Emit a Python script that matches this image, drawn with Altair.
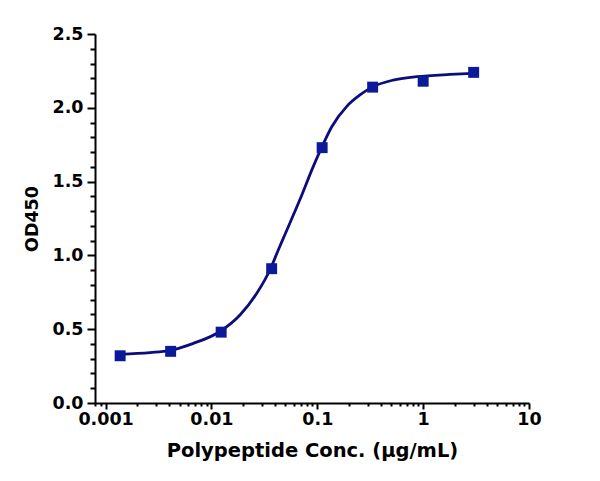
import altair as alt
import pandas as pd

# measured points
conc = [3.0, 1.0, 0.3333, 0.1111, 0.03704, 0.01235, 0.004115, 0.001372]
od450 = [2.24, 2.18, 2.14, 1.73, 0.91, 0.48, 0.35, 0.32]

# fitted curve
curve_x = [0.00137, 0.00263, 0.0040, 0.00675, 0.01225, 0.0186, 0.0268, 0.0363,
           0.0428, 0.0478, 0.0687, 0.0917, 0.110, 0.137, 0.190, 0.253, 0.330,
           0.522, 0.869, 1.79, 2.95]
curve_y = [0.330, 0.342, 0.355, 0.404, 0.488, 0.596, 0.743, 0.913,
           1.037, 1.117, 1.380, 1.603, 1.732, 1.872, 2.010, 2.087, 2.140,
           2.188, 2.211, 2.226, 2.233]

x_major = [0.001, 0.01, 0.1, 1, 10]
x_minor = [0.0008, 0.0009,
           0.002, 0.003, 0.004, 0.005, 0.006, 0.007, 0.008, 0.009,
           0.02, 0.03, 0.04, 0.05, 0.06, 0.07, 0.08, 0.09,
           0.2, 0.3, 0.4, 0.5, 0.6, 0.7, 0.8, 0.9,
           2, 3, 4, 5, 6, 7, 8, 9]
y_major = [0.0, 0.5, 1.0, 1.5, 2.0, 2.5]
y_minor = [0.1, 0.2, 0.3, 0.4, 0.6, 0.7, 0.8, 0.9, 1.1, 1.2, 1.3, 1.4,
           1.6, 1.7, 1.8, 1.9, 2.1, 2.2, 2.3, 2.4]

pts = pd.DataFrame({"conc": conc, "od": od450})
crv = pd.DataFrame({"conc": curve_x, "od": curve_y})

FONT = "DejaVu Sans"
xscale = alt.Scale(type="log", domain=[0.000794, 10], nice=False)
yscale = alt.Scale(domain=[0, 2.5], nice=False, zero=False)

points = alt.Chart(pts).mark_square(size=120, color="#0a1a99", opacity=1).encode(
    x=alt.X("conc:Q", scale=xscale,
            axis=alt.Axis(orient="bottom", values=x_major, format="~g",
                          title="Polypeptide Conc. (µg/mL)", tickSize=6,
                          labelPadding=1, titlePadding=14, titleFontSize=19.5)),
    y=alt.Y("od:Q", scale=yscale,
            axis=alt.Axis(orient="left", values=y_major, format=".1f",
                          title="OD450", tickSize=8, labelPadding=4,
                          titlePadding=10, titleFontSize=17.5)),
)

curve = alt.Chart(crv).mark_line(color="#0c0c7a", strokeWidth=2.8,
                                 interpolate="monotone").encode(
    x=alt.X("conc:Q", scale=xscale,
            axis=alt.Axis(orient="bottom", values=x_minor, labels=False,
                          domain=False, title=None, tickSize=3)),
    y=alt.Y("od:Q", scale=yscale,
            axis=alt.Axis(orient="left", values=y_minor, labels=False,
                          domain=False, title=None, tickSize=5)),
)

chart = alt.layer(curve, points).resolve_axis(
    x="independent", y="independent"
).resolve_scale(x="shared", y="shared").properties(
    width=434, height=369,
    autosize=alt.AutoSizeParams(type="none"),
    padding={"left": 87, "top": 26, "right": 63, "bottom": 70},
).configure_view(stroke=None).configure_axis(
    grid=False,
    domainColor="black", domainWidth=2,
    tickColor="black", tickWidth=2,
    labelFont=FONT, labelFontSize=17.5, labelFontWeight="bold", labelColor="black",
    titleFont=FONT, titleFontWeight="bold", titleColor="black",
    labelFlush=False,
)

chart.save("out.html", embed_options={"renderer": "svg", "actions": False})
